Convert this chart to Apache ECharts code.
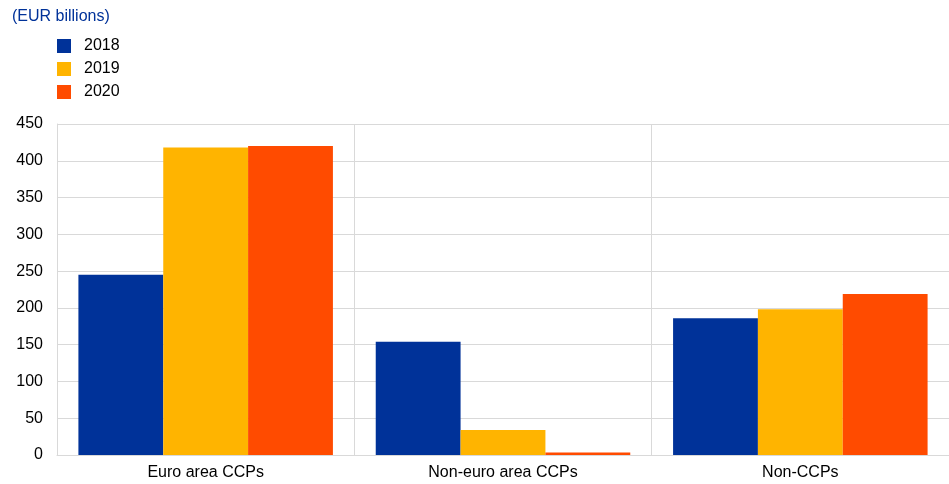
<!DOCTYPE html>
<html><head><meta charset="utf-8">
<script src="https://cdn.jsdelivr.net/npm/echarts@6/dist/echarts.min.js"></script>
<style>html,body{margin:0;padding:0;background:#fff}#c{width:949px;height:484px}</style>
</head><body><div id="c"></div>
<script>
const categories = ['Euro area CCPs', 'Non-euro area CCPs', 'Non-CCPs'];
const seriesNames = ['2018', '2019', '2020'];
const values2018 = [245, 154, 186];
const values2019 = [418, 34, 198];
const values2020 = [420, 3.5, 219];
const yTicks = [0, 50, 100, 150, 200, 250, 300, 350, 400, 450];
const colors = ['#003299', '#FFB400', '#FF4B00'];
const font = 'Liberation Sans, Arial, sans-serif';

const chart = echarts.init(document.getElementById('c'), null, {renderer: 'canvas'});
const data = [values2018, values2019, values2020];
chart.setOption({
  animation: false,
  textStyle: {fontFamily: font},
  title: {text: '(EUR billions)', left: 7, top: 4,
    textStyle: {color: '#003299', fontSize: 16, fontWeight: 'normal', fontFamily: font}},
  legend: {orient: 'vertical', left: 57, top: 38, padding: 0, itemWidth: 14, itemHeight: 14, itemGap: 7,
    icon: 'rect', textStyle: {fontSize: 16, lineHeight: 14, color: '#000', fontFamily: font, padding: [0,0,0,8]},
    data: seriesNames},
  grid: {left: 57, right: 0, top: 124, bottom: 29, containLabel: false},
  xAxis: {type: 'category', data: categories,
    axisLine: {show: true, lineStyle: {color: '#d9d9d9'}},
    axisTick: {show: false},
    splitLine: {show: true, lineStyle: {color: '#d9d9d9'}},
    axisLabel: {fontSize: 16, color: '#000', margin: 10, fontFamily: font}},
  yAxis: {type: 'value', min: yTicks[0], max: yTicks[yTicks.length-1], interval: 50,
    axisLine: {show: true, lineStyle: {color: '#d9d9d9'}},
    axisTick: {show: false},
    splitLine: {show: true, lineStyle: {color: '#d9d9d9'}},
    axisLabel: {fontSize: 16, color: '#000', margin: 14, fontFamily: font}},
  series: seriesNames.map((n, i) => ({
    name: n, type: 'bar', data: data[i], barGap: '0%', barCategoryGap: '14.4%',
    itemStyle: {color: colors[i]}
  }))
});
</script></body></html>
